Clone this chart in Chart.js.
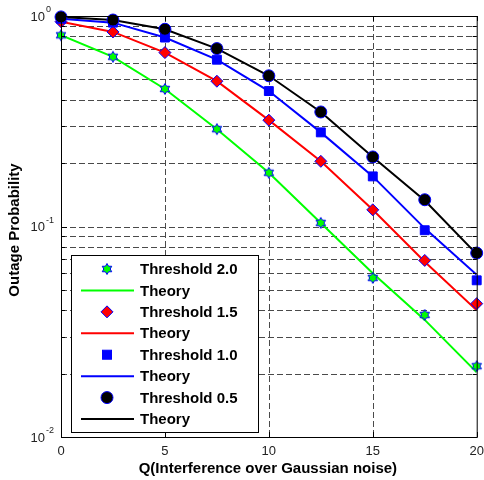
<!DOCTYPE html>
<html>
<head>
<meta charset="utf-8">
<script src="https://cdn.jsdelivr.net/npm/chart.js@4.4.1/dist/chart.umd.min.js"></script>
<style>
  html, body { margin: 0; padding: 0; background: #fff; }
  #wrap { width: 484px; height: 480px; }
</style>
</head>
<body>
<div id="wrap"><canvas id="chart" width="484" height="480"></canvas></div>
<script>
// Datos
const qValues = [0, 2.5, 5, 7.5, 10, 12.5, 15, 17.5, 20];
const sim20 = [0.81, 0.64, 0.45, 0.29, 0.18, 0.104, 0.057, 0.038, 0.0217];
const theory20 = [0.81, 0.64, 0.45, 0.29, 0.18, 0.104, 0.06, 0.036, 0.0203];
const sim15 = [0.94, 0.84, 0.67, 0.49, 0.32, 0.204, 0.12, 0.069, 0.043];
const theory15 = [0.94, 0.84, 0.67, 0.49, 0.32, 0.204, 0.12, 0.068, 0.040];
const sim10 = [0.97, 0.93, 0.79, 0.62, 0.44, 0.28, 0.173, 0.096, 0.0555];
const theory10 = [0.97, 0.93, 0.79, 0.62, 0.44, 0.28, 0.173, 0.098, 0.059];
const sim05 = [0.99, 0.957, 0.865, 0.70, 0.52, 0.35, 0.214, 0.134, 0.0748];
const theory05 = [0.99, 0.957, 0.865, 0.70, 0.52, 0.35, 0.214, 0.133, 0.074];
const legendLabels = ['Threshold 2.0', 'Theory', 'Threshold 1.5', 'Theory',
                      'Threshold 1.0', 'Theory', 'Threshold 0.5', 'Theory'];
const xTicks = [0, 5, 10, 15, 20];
const yDecades = [0, -1, -2];

const FONT = '"Liberation Sans", Arial, sans-serif';

function toPoints(ys) {
  return qValues.map((q, i) => ({ x: q, y: ys[i] }));
}

// estrella de seis puntas (hexagrama) como en matlab
function hexPath(ctx, x, y, R) {
  const r = R / Math.sqrt(3);
  ctx.beginPath();
  for (let i = 0; i < 12; i++) {
    const a = -Math.PI / 2 + i * Math.PI / 6;
    const rr = i % 2 === 0 ? R : r;
    const px = x + rr * Math.cos(a), py = y + rr * Math.sin(a);
    if (i === 0) ctx.moveTo(px, py); else ctx.lineTo(px, py);
  }
  ctx.closePath();
}
const hexCanvas = document.createElement('canvas');
hexCanvas.width = 14; hexCanvas.height = 14;
(function () {
  const c = hexCanvas.getContext('2d');
  hexPath(c, 7, 7, 5.5);
  c.fillStyle = '#00ff00';
  c.fill();
  c.strokeStyle = '#0000ff';
  c.lineWidth = 1;
  c.stroke();
})();

function simSet(label, ys, style, fill, radius, order) {
  return {
    label: label, data: toPoints(ys), showLine: false,
    pointStyle: style, pointRadius: radius, pointHoverRadius: radius,
    backgroundColor: fill, borderColor: '#0000ff', pointBorderWidth: 1,
    clip: false, order: order
  };
}
function theorySet(ys, color, order) {
  return {
    label: 'Theory', data: toPoints(ys), showLine: true,
    borderColor: color, backgroundColor: color, borderWidth: 2,
    pointRadius: 0, pointHoverRadius: 0, tension: 0, order: order
  };
}

const datasets = [
  simSet('Threshold 2.0', sim20, hexCanvas, '#00ff00', 6, 7),
  theorySet(theory20, '#00ff00', 8),
  simSet('Threshold 1.5', sim15, 'rectRot', '#ff0000', 6, 5),
  theorySet(theory15, '#ff0000', 6),
  simSet('Threshold 1.0', sim10, 'rect', '#0000ff', 6.3, 3),
  theorySet(theory10, '#0000ff', 4),
  simSet('Threshold 0.5', sim05, 'circle', '#000000', 6, 1),
  theorySet(theory05, '#000000', 2)
];

// rejilla, marco y etiquetas al estilo matlab
const axesPlugin = {
  id: 'matlabAxes',
  beforeDatasetsDraw(chart) {
    const { ctx, chartArea: a, scales: { x, y } } = chart;
    ctx.save();
    ctx.strokeStyle = '#4a4a4a';
    ctx.lineWidth = 1;
    ctx.setLineDash([6, 3]);
    xTicks.slice(1, -1).forEach(v => {
      const px = Math.round(x.getPixelForValue(v)) + 0.5;
      ctx.beginPath(); ctx.moveTo(px, a.top); ctx.lineTo(px, a.bottom); ctx.stroke();
    });
    [-2, -1].forEach(d => {
      for (let m = 1; m <= 9; m++) {
        if (d === -2 && m === 1) continue;
        const py = Math.round(y.getPixelForValue(m * Math.pow(10, d))) + 0.5;
        ctx.beginPath(); ctx.moveTo(a.left, py); ctx.lineTo(a.right, py); ctx.stroke();
      }
    });
    ctx.restore();
  },
  afterDraw(chart) {
    const { ctx, chartArea: a, scales: { x, y } } = chart;
    const c = chart.data.datasets;
    ctx.save();
    // leyenda
    const lx = 71, ly = 255, lw = 187, lh = 177;
    ctx.fillStyle = '#fff';
    ctx.fillRect(lx, ly, lw, lh);
    ctx.strokeStyle = '#000';
    ctx.lineWidth = 1;
    ctx.strokeRect(lx + 0.5, ly + 0.5, lw, lh);
    legendLabels.forEach((t, i) => {
      const cy = 269 + i * 21.43;
      const ds = c[i];
      if (i % 2 === 0) {
        ctx.lineWidth = 1;
        ctx.strokeStyle = '#0000ff';
        ctx.fillStyle = ds.backgroundColor;
        if (i === 0) {
          ctx.drawImage(hexCanvas, 107 - 7, cy - 7);
        } else if (i === 2) {
          ctx.beginPath();
          ctx.moveTo(107, cy - 6); ctx.lineTo(113, cy); ctx.lineTo(107, cy + 6); ctx.lineTo(101, cy);
          ctx.closePath(); ctx.fill(); ctx.stroke();
        } else if (i === 4) {
          ctx.fillRect(102.5, cy - 4.5, 9, 9); ctx.strokeRect(102.5, cy - 4.5, 9, 9);
        } else {
          ctx.beginPath(); ctx.arc(107, cy, 6, 0, Math.PI * 2); ctx.fill(); ctx.stroke();
        }
      } else {
        ctx.strokeStyle = ds.borderColor;
        ctx.lineWidth = 2;
        ctx.beginPath(); ctx.moveTo(81, cy); ctx.lineTo(134, cy); ctx.stroke();
      }
      ctx.fillStyle = '#000';
      ctx.font = 'bold 15px ' + FONT;
      ctx.textAlign = 'left';
      ctx.textBaseline = 'middle';
      ctx.fillText(t, 140, cy + 1);
    });

    // marco y marcas de ejes
    ctx.strokeStyle = '#000';
    ctx.lineWidth = 1;
    ctx.setLineDash([]);
    ctx.strokeRect(a.left + 0.5, a.top + 0.5, a.right - a.left, a.bottom - a.top);
    ctx.beginPath();
    xTicks.forEach(v => {
      const px = Math.round(x.getPixelForValue(v)) + 0.5;
      ctx.moveTo(px, a.bottom); ctx.lineTo(px, a.bottom - 5);
      ctx.moveTo(px, a.top); ctx.lineTo(px, a.top + 5);
    });
    [-2, -1, 0].forEach(d => {
      for (let m = 1; m <= 9; m++) {
        if (d === 0 && m > 1) break;
        const py = Math.round(y.getPixelForValue(m * Math.pow(10, d))) + 0.5;
        ctx.moveTo(a.left, py); ctx.lineTo(a.left + (m === 1 ? 6 : 4), py);
        ctx.moveTo(a.right, py); ctx.lineTo(a.right - (m === 1 ? 6 : 4), py);
      }
    });
    ctx.stroke();

    // etiquetas de ticks
    ctx.fillStyle = '#222';
    ctx.font = '13px ' + FONT;
    ctx.textAlign = 'center';
    ctx.textBaseline = 'middle';
    xTicks.forEach(v => ctx.fillText(String(v), x.getPixelForValue(v), 451));
    yDecades.forEach(d => {
      const py = y.getPixelForValue(Math.pow(10, d));
      ctx.font = '13px ' + FONT;
      ctx.textAlign = 'right';
      ctx.fillText('10', 45, py + 1);
      ctx.font = '9px ' + FONT;
      ctx.textAlign = 'left';
      ctx.fillText(d === 0 ? '0' : '-' + Math.abs(d), 46, py - 6);
    });

    // titulos
    ctx.fillStyle = '#000';
    ctx.font = 'bold 15px ' + FONT;
    ctx.textAlign = 'center';
    ctx.fillText('Q(Interference over Gaussian noise)', (a.left + a.right) / 2 - 1, 469);
    ctx.translate(15, 230);
    ctx.rotate(-Math.PI / 2);
    ctx.fillText('Outage Probability', 0, 0);
    ctx.restore();
  }
};

const ctx = document.getElementById('chart').getContext('2d');
const myChart = new Chart(ctx, {
  type: 'scatter',
  data: { datasets: datasets },
  options: {
    responsive: false,
    animation: false,
    layout: { padding: { top: 16, right: 7, left: 0, bottom: 0 } },
    plugins: { legend: { display: false }, tooltip: { enabled: false } },
    scales: {
      x: {
        type: 'linear', min: 0, max: 20,
        ticks: { display: false }, grid: { display: false }, border: { display: false },
        afterFit(s) { s.height = 43; }
      },
      y: {
        type: 'logarithmic', min: 0.01, max: 1,
        ticks: { display: false }, grid: { display: false }, border: { display: false },
        afterFit(s) { s.width = 61; }
      }
    }
  },
  plugins: [axesPlugin]
});
</script>
</body>
</html>
